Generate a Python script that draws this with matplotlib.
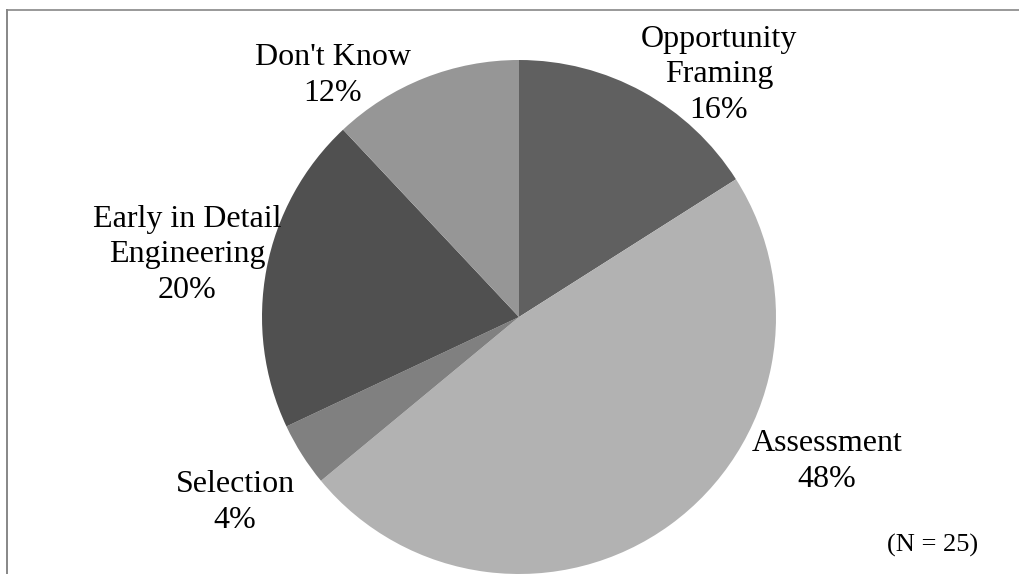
import matplotlib.pyplot as plt
from matplotlib.lines import Line2D

# Etapa en la que se identifica la oportunidad (N = 25)
etapas = ["Opportunity\nFraming", "Assessment", "Selection",
          "Early in Detail\nEngineering", "Don't Know"]
porcentajes = [16, 48, 4, 20, 12]
colores = ["#606060", "#b2b2b2", "#808080", "#505050", "#969696"]

W, H = 1019, 574

plt.rcParams["font.family"] = ["Liberation Serif", "DejaVu Serif"]

fig = plt.figure(figsize=(W / 100, H / 100), dpi=100)
ax = fig.add_axes([0, 0, 1, 1])

def y(py):
    # coordenada vertical medida desde arriba
    return H - py

ax.pie(porcentajes, colors=colores, startangle=90, counterclock=False,
       center=(519, y(317)), radius=257, frame=True,
       wedgeprops=dict(linewidth=0))
ax.set_xlim(0, W)
ax.set_ylim(0, H)
ax.set_aspect("equal")
ax.axis("off")

# ── etiquetas: nombre + porcentaje (línea base de la última línea) ──
pos = [(719, 118), (827, 487), (235, 528), (187, 298), (333, 101)]
for nombre, p, (px, py) in zip(etapas, porcentajes, pos):
    ax.text(px, y(py), f"{nombre}\n{p}%", ha="center", va="baseline",
            fontsize=23, linespacing=1.3, color="black")

ax.text(933, y(552), "(N = 25)", ha="center", va="baseline", fontsize=19)

# marco recortado (solo borde superior e izquierdo)
fig.add_artist(Line2D([7 / W, 7 / W], [0, 1 - 10 / H], transform=fig.transFigure,
                      color="#878787", lw=1.4))
fig.add_artist(Line2D([7 / W, 1], [1 - 10 / H, 1 - 10 / H], transform=fig.transFigure,
                      color="#878787", lw=1.2))

fig.savefig("out.png", dpi=100)
